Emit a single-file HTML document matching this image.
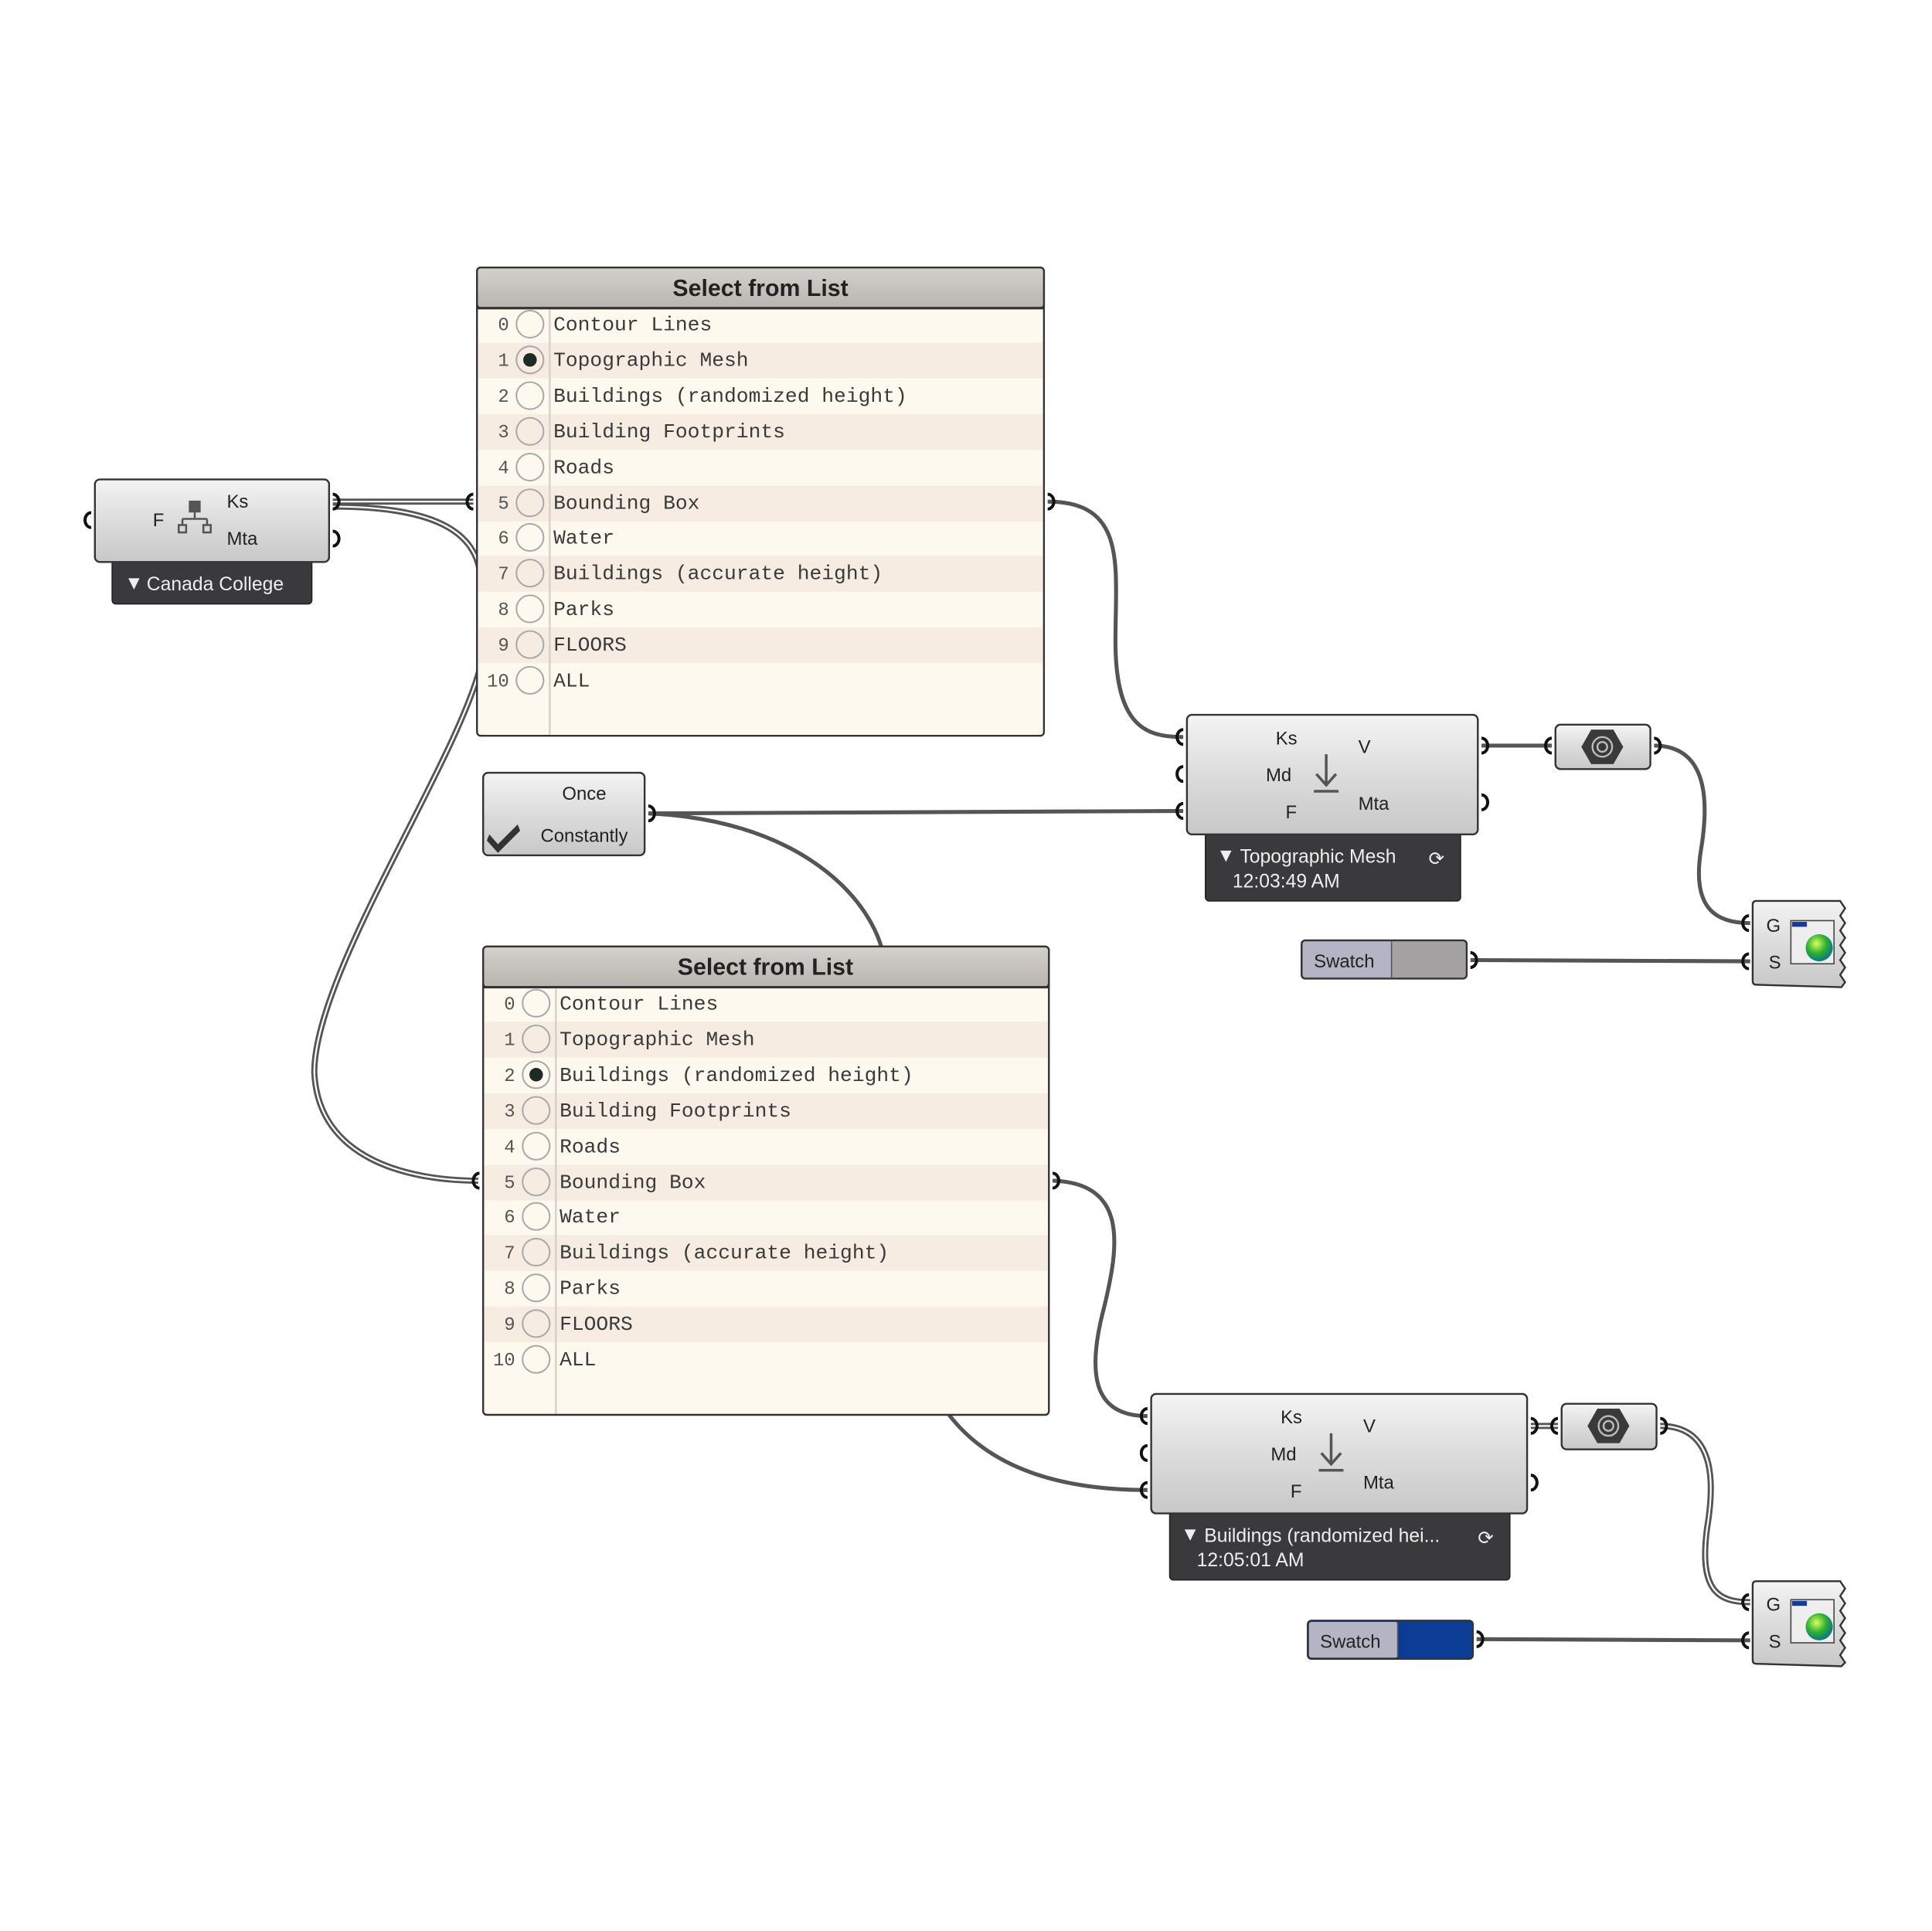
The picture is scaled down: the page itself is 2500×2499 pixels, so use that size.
<!DOCTYPE html>
<html><head><meta charset="utf-8"><style>
html,body{margin:0;padding:0;background:#fff;width:2500px;height:2499px;overflow:hidden}
svg{display:block}
.m{font-family:"Liberation Mono",monospace;font-size:16.5px;fill:#3a3a3a}
.n{font-family:"Liberation Mono",monospace;font-size:15px;fill:#555}
.s{font-family:"Liberation Sans",sans-serif;font-size:15px;fill:#222}
.w{font-family:"Liberation Sans",sans-serif;font-size:15.5px;fill:#eee}
.h{font-family:"Liberation Sans",sans-serif;font-size:19px;font-weight:bold;fill:#222}
.wire{fill:none;stroke:#555;stroke-width:3.2}
.dw{fill:none;stroke:#555;stroke-width:5}
.dwi{fill:none;stroke:#fff;stroke-width:1.4}
</style></head><body>
<svg width="2500" height="2499" viewBox="0 0 1567.5 1566.8" xmlns="http://www.w3.org/2000/svg">
<defs>
<linearGradient id="g" x1="0" y1="0" x2="0" y2="1"><stop offset="0" stop-color="#f4f4f4"/><stop offset="0.5" stop-color="#dcdcdc"/><stop offset="1" stop-color="#c8c8c8"/></linearGradient>
<linearGradient id="hd" x1="0" y1="0" x2="0" y2="1"><stop offset="0" stop-color="#d4d0cc"/><stop offset="1" stop-color="#b8b4b0"/></linearGradient>
<radialGradient id="ball" cx="0.4" cy="0.35" r="0.6"><stop offset="0" stop-color="#d8ff60"/><stop offset="0.6" stop-color="#30b030"/><stop offset="1" stop-color="#10807a"/></radialGradient>
</defs>

<!-- wires -->
<path class="dw" d="M270,407 L384,407"/><path class="dwi" d="M270,407 L384,407"/>
<path class="dw" d="M270,411 C350,411 388,430 390,470 L390,540 C370,620 255,790 255,870 C258,940 330,958 388,958"/>
<path class="dwi" d="M270,411 C350,411 388,430 390,470 L390,540 C370,620 255,790 255,870 C258,940 330,958 388,958"/>
<path class="wire" d="M850,407 C915,407 905,460 905,520 C905,590 930,598 960,598"/>
<path class="wire" d="M526,660 L960,658"/>
<path class="wire" d="M526,660 C640,665 700,720 715,768"/>
<path class="wire" d="M854,958 C915,960 908,1010 896,1060 C880,1120 890,1149 931,1149"/>
<path class="wire" d="M770,1148 C810,1200 880,1209 931,1209"/>
<path class="wire" d="M1202,605 L1259,605"/>
<path class="wire" d="M1342,605 C1390,605 1385,660 1380,690 C1372,740 1395,749 1420,749"/>
<path class="wire" d="M1193,779 L1420,780"/>
<path class="dw" d="M1242,1157 L1264,1157"/><path class="dwi" d="M1242,1157 L1264,1157"/>
<path class="dw" d="M1347,1157 C1395,1157 1390,1210 1385,1240 C1378,1292 1395,1300 1420,1300"/>
<path class="dwi" d="M1347,1157 C1395,1157 1390,1210 1385,1240 C1378,1292 1395,1300 1420,1300"/>
<path class="wire" d="M1198,1330 L1420,1331"/>

<!-- Canada College node -->
<rect x="91" y="440" width="162" height="50" rx="3" fill="#3a3a3c" stroke="#222"/>
<text class="w" x="101" y="478" font-size="10">▼</text>
<text class="w" x="119" y="479">Canada College</text>
<rect x="77" y="389" width="190" height="67" rx="4" fill="url(#g)" stroke="#333" stroke-width="1.5"/>
<path d="M74,416 a5,6 0 0 0 0,12" fill="none" stroke="#111" stroke-width="2.5"/>
<path d="M270,401 a5,6 0 0 1 0,12" fill="none" stroke="#111" stroke-width="2.5"/>
<path d="M270,431 a5,6 0 0 1 0,12" fill="none" stroke="#111" stroke-width="2.5"/>
<text class="s" x="124" y="427">F</text>
<text class="s" x="184" y="412">Ks</text>
<text class="s" x="184" y="442">Mta</text>
<g fill="#555" stroke="#555" stroke-width="1.6">
<rect x="154" y="407" width="8" height="8"/><path d="M158,415 v6 M148,421 h20 M148,421 v5 M168,421 v5" fill="none"/>
<rect x="145" y="426" width="6" height="6" fill="none"/><rect x="165" y="426" width="6" height="6" fill="none"/></g>

<!-- List 1 -->
<rect x="387" y="217" width="460" height="380" rx="3" fill="#fdf9ee" stroke="#333" stroke-width="1.5"/>
<g fill="#f6ece2">
<rect x="388" y="278" width="458" height="29"/><rect x="388" y="336" width="458" height="29"/><rect x="388" y="394" width="458" height="29"/><rect x="388" y="451" width="458" height="29"/><rect x="388" y="509" width="458" height="29"/></g>
<rect x="387" y="217" width="460" height="33" rx="3" fill="url(#hd)" stroke="#333" stroke-width="1.5"/>
<line x1="387" y1="250" x2="847" y2="250" stroke="#333" stroke-width="2"/>
<text class="h" x="617" y="240" text-anchor="middle">Select from List</text>
<line x1="446" y1="251" x2="446" y2="596" stroke="#d8d0c4" stroke-width="1.5"/>
<g fill="none" stroke="#aaa" stroke-width="1.3">
<circle cx="430" cy="263" r="11"/><circle cx="430" cy="292" r="11"/><circle cx="430" cy="321" r="11"/><circle cx="430" cy="350" r="11"/><circle cx="430" cy="379" r="11"/><circle cx="430" cy="408" r="11"/><circle cx="430" cy="436" r="11"/><circle cx="430" cy="465" r="11"/><circle cx="430" cy="494" r="11"/><circle cx="430" cy="523" r="11"/><circle cx="430" cy="552" r="11"/></g>
<circle cx="430" cy="292" r="5.5" fill="#1e2a24"/>
<g class="n" text-anchor="end">
<text x="413" y="268">0</text><text x="413" y="297">1</text><text x="413" y="326">2</text><text x="413" y="355">3</text><text x="413" y="384">4</text><text x="413" y="413">5</text><text x="413" y="441">6</text><text x="413" y="470">7</text><text x="413" y="499">8</text><text x="413" y="528">9</text><text x="413" y="557">10</text></g>
<g class="m">
<text x="449" y="268">Contour Lines</text><text x="449" y="297">Topographic Mesh</text><text x="449" y="326">Buildings (randomized height)</text><text x="449" y="355">Building Footprints</text><text x="449" y="384">Roads</text><text x="449" y="413">Bounding Box</text><text x="449" y="441">Water</text><text x="449" y="470">Buildings (accurate height)</text><text x="449" y="499">Parks</text><text x="449" y="528">FLOORS</text><text x="449" y="557">ALL</text></g>
<path d="M384,401 a5,6 0 0 0 0,12" fill="none" stroke="#111" stroke-width="2.5"/>
<path d="M850,401 a5,6 0 0 1 0,12" fill="none" stroke="#111" stroke-width="2.5"/>

<!-- List 2 -->
<rect x="392" y="768" width="459" height="380" rx="3" fill="#fdf9ee" stroke="#333" stroke-width="1.5"/>
<g fill="#f6ece2">
<rect x="393" y="829" width="457" height="29"/><rect x="393" y="887" width="457" height="29"/><rect x="393" y="945" width="457" height="29"/><rect x="393" y="1002" width="457" height="29"/><rect x="393" y="1060" width="457" height="29"/></g>
<rect x="392" y="768" width="459" height="33" rx="3" fill="url(#hd)" stroke="#333" stroke-width="1.5"/>
<line x1="392" y1="801" x2="851" y2="801" stroke="#333" stroke-width="2"/>
<text class="h" x="621" y="791" text-anchor="middle">Select from List</text>
<line x1="451" y1="802" x2="451" y2="1147" stroke="#d8d0c4" stroke-width="1.5"/>
<g fill="none" stroke="#aaa" stroke-width="1.3">
<circle cx="435" cy="814" r="11"/><circle cx="435" cy="843" r="11"/><circle cx="435" cy="872" r="11"/><circle cx="435" cy="901" r="11"/><circle cx="435" cy="930" r="11"/><circle cx="435" cy="959" r="11"/><circle cx="435" cy="987" r="11"/><circle cx="435" cy="1016" r="11"/><circle cx="435" cy="1045" r="11"/><circle cx="435" cy="1074" r="11"/><circle cx="435" cy="1103" r="11"/></g>
<circle cx="435" cy="872" r="5.5" fill="#1e2a24"/>
<g class="n" text-anchor="end">
<text x="418" y="819">0</text><text x="418" y="848">1</text><text x="418" y="877">2</text><text x="418" y="906">3</text><text x="418" y="935">4</text><text x="418" y="964">5</text><text x="418" y="992">6</text><text x="418" y="1021">7</text><text x="418" y="1050">8</text><text x="418" y="1079">9</text><text x="418" y="1108">10</text></g>
<g class="m">
<text x="454" y="819">Contour Lines</text><text x="454" y="848">Topographic Mesh</text><text x="454" y="877">Buildings (randomized height)</text><text x="454" y="906">Building Footprints</text><text x="454" y="935">Roads</text><text x="454" y="964">Bounding Box</text><text x="454" y="992">Water</text><text x="454" y="1021">Buildings (accurate height)</text><text x="454" y="1050">Parks</text><text x="454" y="1079">FLOORS</text><text x="454" y="1108">ALL</text></g>
<path d="M389,952 a5,6 0 0 0 0,12" fill="none" stroke="#111" stroke-width="2.5"/>
<path d="M854,952 a5,6 0 0 1 0,12" fill="none" stroke="#111" stroke-width="2.5"/>

<!-- Once/Constantly -->
<rect x="392" y="627" width="131" height="67" rx="4" fill="url(#g)" stroke="#333" stroke-width="1.5"/>
<text class="s" x="474" y="649" text-anchor="middle">Once</text>
<text class="s" x="474" y="683" text-anchor="middle">Constantly</text>
<path d="M397,677 l7,8 l16,-16 l2,5 l-18,18 l-9,-10 z" fill="#333"/>
<path d="M526,654 a5,6 0 0 1 0,12" fill="none" stroke="#111" stroke-width="2.5"/>

<!-- Viewer 1 -->
<rect x="978" y="665" width="207" height="66" rx="3" fill="#3a3a3c" stroke="#222"/>
<text class="w" x="987" y="699" font-size="10">▼</text>
<text class="w" x="1006" y="700">Topographic Mesh</text>
<text class="w" x="1000" y="720" font-size="13" fill="#bbb">12:03:49 AM</text>
<text class="w" x="1159" y="702" font-size="18">⟳</text>
<rect x="963" y="580" width="236" height="97" rx="4" fill="url(#g)" stroke="#333" stroke-width="1.5"/>
<text class="s" x="1035" y="604">Ks</text><text class="s" x="1027" y="634">Md</text><text class="s" x="1043" y="664">F</text>
<text class="s" x="1102" y="611">V</text><text class="s" x="1102" y="657">Mta</text>
<path d="M1076,612 v24 M1068,628 l8,9 l8,-9 M1066,642 h20" fill="none" stroke="#555" stroke-width="2.2"/>
<path d="M960,592 a5,6 0 0 0 0,12 M960,622 a5,6 0 0 0 0,12 M960,652 a5,6 0 0 0 0,12" fill="none" stroke="#111" stroke-width="2.5"/>
<path d="M1202,599 a5,6 0 0 1 0,12 M1202,645 a5,6 0 0 1 0,12" fill="none" stroke="#111" stroke-width="2.5"/>

<!-- Viewer 2 -->
<rect x="949" y="1216" width="276" height="66" rx="3" fill="#3a3a3c" stroke="#222"/>
<text class="w" x="958" y="1250" font-size="10">▼</text>
<text class="w" x="977" y="1251">Buildings (randomized hei...</text>
<text class="w" x="971" y="1271" font-size="13" fill="#bbb">12:05:01 AM</text>
<text class="w" x="1199" y="1253" font-size="18">⟳</text>
<rect x="934" y="1131" width="305" height="97" rx="4" fill="url(#g)" stroke="#333" stroke-width="1.5"/>
<text class="s" x="1039" y="1155">Ks</text><text class="s" x="1031" y="1185">Md</text><text class="s" x="1047" y="1215">F</text>
<text class="s" x="1106" y="1162">V</text><text class="s" x="1106" y="1208">Mta</text>
<path d="M1080,1163 v24 M1072,1179 l8,9 l8,-9 M1070,1193 h20" fill="none" stroke="#555" stroke-width="2.2"/>
<path d="M931,1143 a5,6 0 0 0 0,12 M931,1173 a5,6 0 0 0 0,12 M931,1203 a5,6 0 0 0 0,12" fill="none" stroke="#111" stroke-width="2.5"/>
<path d="M1242,1151 a5,6 0 0 1 0,12 M1242,1197 a5,6 0 0 1 0,12" fill="none" stroke="#111" stroke-width="2.5"/>

<!-- Hex nodes -->
<g>
<rect x="1262" y="588" width="77" height="36" rx="4" fill="url(#g)" stroke="#333" stroke-width="1.5"/>
<polygon points="1291,592 1309,592 1317,606 1309,620 1291,620 1283,606" fill="#3a3a3a"/>
<circle cx="1300" cy="606" r="8" fill="none" stroke="#bbb" stroke-width="1.5"/><circle cx="1300" cy="606" r="4" fill="none" stroke="#bbb" stroke-width="1.5"/>
<path d="M1259,599 a5,6 0 0 0 0,12 M1342,599 a5,6 0 0 1 0,12" fill="none" stroke="#111" stroke-width="2.5"/>
</g>
<g>
<rect x="1267" y="1139" width="77" height="37" rx="4" fill="url(#g)" stroke="#333" stroke-width="1.5"/>
<polygon points="1296,1143 1314,1143 1322,1157 1314,1171 1296,1171 1288,1157" fill="#3a3a3a"/>
<circle cx="1305" cy="1157" r="8" fill="none" stroke="#bbb" stroke-width="1.5"/><circle cx="1305" cy="1157" r="4" fill="none" stroke="#bbb" stroke-width="1.5"/>
<path d="M1264,1151 a5,6 0 0 0 0,12 M1347,1151 a5,6 0 0 1 0,12" fill="none" stroke="#111" stroke-width="2.5"/>
</g>

<!-- Swatches -->
<rect x="1056" y="763" width="134" height="31" rx="3" fill="#a4a2a2" stroke="#333" stroke-width="1.5"/>
<rect x="1057" y="764" width="72" height="29" rx="2" fill="#b4b4c4"/>
<line x1="1129" y1="764" x2="1129" y2="793" stroke="#555"/>
<text class="s" x="1066" y="785" fill="#334">Swatch</text>
<path d="M1193,773 a5,6 0 0 1 0,12" fill="none" stroke="#111" stroke-width="2.5"/>
<rect x="1061" y="1315" width="134" height="31" rx="3" fill="#0b3c96" stroke="#333" stroke-width="1.5"/>
<rect x="1062" y="1316" width="72" height="29" rx="2" fill="#b4b4c4"/>
<line x1="1134" y1="1316" x2="1134" y2="1345" stroke="#555"/>
<text class="s" x="1071" y="1337" fill="#334">Swatch</text>
<path d="M1198,1324 a5,6 0 0 1 0,12" fill="none" stroke="#111" stroke-width="2.5"/>

<!-- Preview nodes -->
<g>
<path d="M1422,734 q0,-3 3,-3 L1493,731 l4,6 l-4,6 l4,6 l-4,6 l4,6 l-4,6 l4,6 l-4,6 l4,6 l-4,6 l4,6 l-3,4 L1425,799 q-3,0 -3,-3 z" fill="url(#g)" stroke="#333" stroke-width="1.5"/>
<text class="s" x="1433" y="756">G</text><text class="s" x="1435" y="786">S</text>
<rect x="1453" y="747" width="35" height="35" fill="#eee" stroke="#444"/><rect x="1454" y="748" width="12" height="4" fill="#1a3a9a"/>
<circle cx="1476" cy="769" r="11" fill="url(#ball)"/>
<path d="M1419,743 a5,6 0 0 0 0,12 M1419,774 a5,6 0 0 0 0,12" fill="none" stroke="#111" stroke-width="2.5"/>
</g>
<g>
<path d="M1422,1286 q0,-3 3,-3 L1493,1283 l4,6 l-4,6 l4,6 l-4,6 l4,6 l-4,6 l4,6 l-4,6 l4,6 l-4,6 l4,6 l-3,3 L1425,1350 q-3,0 -3,-3 z" fill="url(#g)" stroke="#333" stroke-width="1.5"/>
<text class="s" x="1433" y="1307">G</text><text class="s" x="1435" y="1337">S</text>
<rect x="1453" y="1298" width="35" height="35" fill="#eee" stroke="#444"/><rect x="1454" y="1299" width="12" height="4" fill="#1a3a9a"/>
<circle cx="1476" cy="1320" r="11" fill="url(#ball)"/>
<path d="M1419,1294 a5,6 0 0 0 0,12 M1419,1325 a5,6 0 0 0 0,12" fill="none" stroke="#111" stroke-width="2.5"/>
</g>
</svg>
</body></html>
